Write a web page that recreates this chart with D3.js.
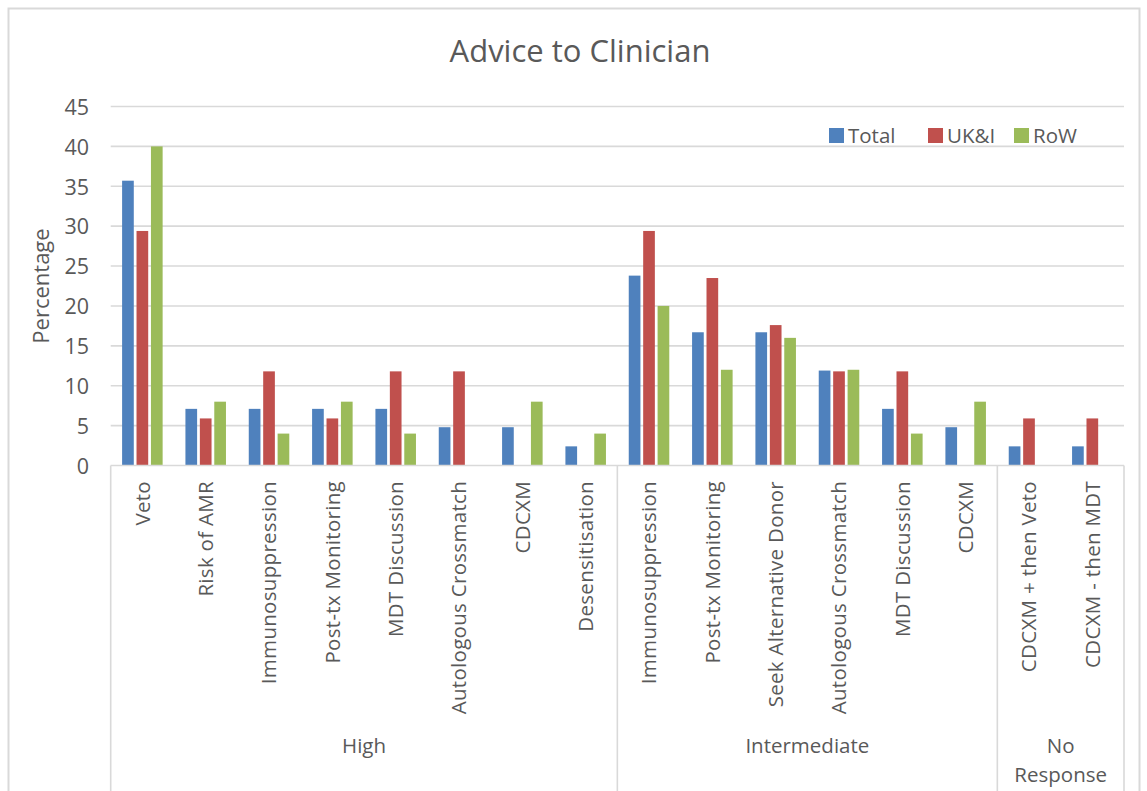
<!DOCTYPE html>
<html>
<head>
<meta charset="utf-8">
<script src="https://cdn.jsdelivr.net/npm/d3@7"></script>
<style>
  html, body { margin: 0; padding: 0; background: #fff; }
  svg { display: block; }
  text { font-family: "Open Sans", "Noto Sans", sans-serif; fill: #595959; }
</style>
</head>
<body>
<svg id="chart" width="1147" height="791"></svg>
<script>
// Response groups and the advice categories under each one
const groups = ["High", "Intermediate", "No Response"];
const categories = [
  "Veto", "Risk of AMR", "Immunosuppression", "Post-tx Monitoring",
  "MDT Discussion", "Autologous Crossmatch", "CDCXM", "Desensitisation",
  "Immunosuppression", "Post-tx Monitoring", "Seek Alternative Donor",
  "Autologous Crossmatch", "MDT Discussion", "CDCXM",
  "CDCXM + then Veto", "CDCXM - then MDT"
];
const categoryGroup = [0, 0, 0, 0, 0, 0, 0, 0, 1, 1, 1, 1, 1, 1, 2, 2];

// Series (percentage of respondents)
const seriesNames = ["Total", "UK&I", "RoW"];
const seriesColors = ["#4F81BD", "#C0504D", "#9BBB59"];
const totalValues = [35.7, 7.1, 7.1, 7.1, 7.1, 4.8, 4.8, 2.4, 23.8, 16.7, 16.7, 11.9, 7.1, 4.8, 2.4, 2.4];
const ukiValues   = [29.4, 5.9, 11.8, 5.9, 11.8, 11.8, 0, 0, 29.4, 23.5, 17.6, 11.8, 11.8, 0, 5.9, 5.9];
const rowValues   = [40, 8, 4, 8, 4, 0, 8, 4, 20, 12, 16, 12, 4, 8, 0, 0];
const seriesValues = [totalValues, ukiValues, rowValues];

const yTicks = [0, 5, 10, 15, 20, 25, 30, 35, 40, 45];

const W = 1147, H = 791;
const plot = { left: 110.7, right: 1124, top: 106.5, bottom: 465.5 };
const gridColor = "#D9D9D9";

const svg = d3.select("#chart");

// Outer chart frame
svg.append("rect")
  .attr("x", 8.5).attr("y", 8.5)
  .attr("width", 1131).attr("height", H + 20)
  .attr("fill", "#fff").attr("stroke", gridColor).attr("stroke-width", 2);

const idx = d3.range(categories.length);
const x0 = d3.scaleBand().domain(idx).range([plot.left, plot.right]).padding(0);
const bw = x0.bandwidth();
const x1 = d3.scaleBand().domain(seriesNames)
  .range([0.18 * bw, 0.82 * bw]).paddingInner(0.19).paddingOuter(0);
const y = d3.scaleLinear().domain([0, 45]).range([plot.bottom, plot.top]);

// Horizontal gridlines
svg.append("g").selectAll("line").data(yTicks.filter(t => t > 0)).join("line")
  .attr("x1", plot.left).attr("x2", plot.right)
  .attr("y1", d => y(d)).attr("y2", d => y(d))
  .attr("stroke", gridColor).attr("stroke-width", 1.6);

// Y axis tick labels
const yAxis = d3.axisLeft(y).tickValues(yTicks).tickSize(0).tickPadding(0);
const gy = svg.append("g").attr("transform", `translate(89,0)`).call(yAxis);
gy.select(".domain").remove();
gy.selectAll("text")
  .attr("font-family", "Open Sans").attr("font-size", 21.5)
  .attr("fill", "#595959").attr("dy", "0.36em");

// Bars
const barG = svg.append("g");
seriesNames.forEach((s, si) => {
  barG.append("g").selectAll("rect")
    .data(idx.filter(i => seriesValues[si][i] > 0))
    .join("rect")
    .attr("x", i => x0(i) + x1(s))
    .attr("y", i => y(seriesValues[si][i]))
    .attr("width", x1.bandwidth())
    .attr("height", i => y(0) - y(seriesValues[si][i]))
    .attr("fill", seriesColors[si]);
});

// Category axis baseline and group dividers
svg.append("line")
  .attr("x1", plot.left).attr("x2", plot.right)
  .attr("y1", plot.bottom).attr("y2", plot.bottom)
  .attr("stroke", gridColor).attr("stroke-width", 1.6);

const groupBounds = groups.map((g, gi) => {
  const members = idx.filter(i => categoryGroup[i] === gi);
  return { name: g, x0: x0(members[0]), x1: x0(members[members.length - 1]) + bw };
});
const dividerX = [groupBounds[0].x0, ...groupBounds.map(b => b.x1)];
svg.append("g").selectAll("line").data(dividerX).join("line")
  .attr("x1", d => d).attr("x2", d => d)
  .attr("y1", plot.bottom).attr("y2", H + 5)
  .attr("stroke", gridColor).attr("stroke-width", 1.6);

// Rotated category labels
svg.append("g").selectAll("text").data(idx).join("text")
  .attr("transform", i => `translate(${x0(i) + bw / 2},481) rotate(-90)`)
  .attr("text-anchor", "end")
  .attr("dy", "0.36em")
  .attr("font-size", 20.5)
  .attr("letter-spacing", 0.3)
  .text(i => categories[i]);

// Group labels
groupBounds.forEach(b => {
  const cx = (b.x0 + b.x1) / 2;
  const words = b.name === "No Response" ? ["No", "Response"] : [b.name];
  words.forEach((w, k) => {
    svg.append("text")
      .attr("x", cx).attr("y", 753 + k * 28.5)
      .attr("text-anchor", "middle")
      .attr("font-size", 20.5)
      .text(w);
  });
});

// Title
svg.append("text")
  .attr("x", 580).attr("y", 62)
  .attr("text-anchor", "middle")
  .attr("font-size", 31)
  .text("Advice to Clinician");

// Y axis title
svg.append("text")
  .attr("transform", `translate(49,286) rotate(-90)`)
  .attr("text-anchor", "middle")
  .attr("font-size", 22)
  .text("Percentage");

// Legend
const legendX = [829, 928, 1014];
const legend = svg.append("g").selectAll("g").data(seriesNames).join("g")
  .attr("transform", (d, i) => `translate(${legendX[i]},128)`);
legend.append("rect")
  .attr("width", 15).attr("height", 15)
  .attr("fill", (d, i) => seriesColors[i]);
legend.append("text")
  .attr("x", 19).attr("y", 15)
  .attr("font-size", 20.5)
  .text(d => d);
</script>
</body>
</html>
